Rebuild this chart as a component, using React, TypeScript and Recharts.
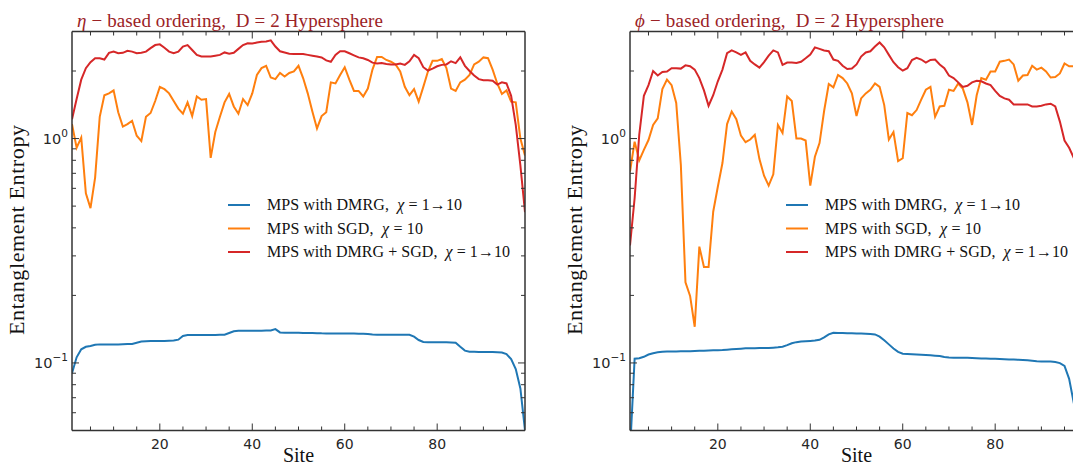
import React from 'react';
import { LineChart, Line, XAxis, YAxis, Legend } from 'recharts';

// bond index along the chain
const sites = Array.from({ length: 99 }, (_, i) => i + 1);

// eta-based ordering
const etaDmrg = [
  0.09, 0.106, 0.115, 0.118, 0.119, 0.1205, 0.121, 0.121, 0.121, 0.121,
  0.121, 0.1212, 0.1214, 0.1216, 0.123, 0.1245, 0.125, 0.1252, 0.1253, 0.1253,
  0.1254, 0.1256, 0.1258, 0.127, 0.132, 0.1331, 0.1332, 0.1332, 0.1332, 0.1332,
  0.1333, 0.1333, 0.1334, 0.1336, 0.136, 0.1385, 0.139, 0.139, 0.139, 0.1391,
  0.1392, 0.1393, 0.1394, 0.1396, 0.1415, 0.1368, 0.1364, 0.1363, 0.1362, 0.1362,
  0.1361, 0.136, 0.1359, 0.1358, 0.1355, 0.1354, 0.1354, 0.1353, 0.1353, 0.1353,
  0.1352, 0.1352, 0.1351, 0.135, 0.1345, 0.1338, 0.1337, 0.1337, 0.1337, 0.1337,
  0.1336, 0.1336, 0.1336, 0.1335, 0.131, 0.1265, 0.124, 0.1238, 0.1238, 0.1237,
  0.1237, 0.1236, 0.1235, 0.123, 0.118, 0.1135, 0.1122, 0.1121, 0.112, 0.112,
  0.1119, 0.1118, 0.1116, 0.1112, 0.1095, 0.104, 0.094, 0.077, 0.05,
];
const etaSgd = [
  1.16, 0.91, 1.01, 0.57, 0.49, 0.67, 1.25, 1.56, 1.59, 1.64,
  1.31, 1.13, 1.16, 1.2, 1.03, 0.975, 1.25, 1.3, 1.47, 1.7,
  1.66, 1.59, 1.47, 1.36, 1.29, 1.45, 1.26, 1.54, 1.49, 1.5,
  0.82, 1.07, 1.25, 1.45, 1.58, 1.39, 1.29, 1.5, 1.41, 1.59,
  1.92, 2.06, 2.11, 1.87, 1.84, 1.96, 1.89, 1.96, 1.99, 2.11,
  1.86, 1.59, 1.32, 1.11, 1.26, 1.31, 1.78, 1.76, 1.92, 2.08,
  1.83, 1.63, 1.63, 1.54, 1.67, 2.03, 2.31, 2.31, 2.24, 2.2,
  2.14, 1.99, 1.7, 1.56, 1.66, 1.46, 1.7, 1.99, 2.22, 2.22,
  2.26, 2.06, 1.67, 1.63, 1.78, 1.83, 1.92, 2.14, 2.2, 2.3,
  2.28, 2.03, 1.76, 1.58, 1.64, 1.46, 1.45, 1.0, 0.84,
];
const etaHybrid = [
  1.22, 1.5, 1.83, 2.06, 2.19, 2.28, 2.28, 2.25, 2.41, 2.44,
  2.4, 2.41, 2.46, 2.44, 2.4, 2.41, 2.44, 2.53, 2.61, 2.63,
  2.54, 2.44, 2.4, 2.44, 2.57, 2.61, 2.48, 2.36, 2.32, 2.32,
  2.32, 2.34, 2.36, 2.42, 2.39, 2.41, 2.51, 2.61, 2.66, 2.65,
  2.68, 2.7, 2.71, 2.74, 2.57, 2.45, 2.42, 2.39, 2.38, 2.38,
  2.38, 2.36, 2.34, 2.32, 2.3, 2.23, 2.2, 2.36, 2.45, 2.45,
  2.4, 2.35, 2.3, 2.28, 2.24, 2.18, 2.16, 2.17, 2.15, 2.14,
  2.14, 2.16, 2.13, 2.21, 2.36, 2.28, 2.08, 2.01, 2.05, 2.1,
  2.13, 2.14, 2.21, 2.17, 2.3, 2.11, 2.0, 1.91, 1.84, 1.82,
  1.82, 1.81, 1.74, 1.78, 1.76, 1.55, 1.15, 0.76, 0.47,
];

// phi-based ordering
const phiDmrg = [
  0.04, 0.1045, 0.105, 0.1065, 0.109, 0.1105, 0.1115, 0.1122, 0.1124, 0.1125,
  0.1126, 0.1127, 0.1128, 0.1129, 0.113, 0.1132, 0.1134, 0.1136, 0.1138, 0.114,
  0.1142, 0.1146, 0.115, 0.1154, 0.1158, 0.1162, 0.1163, 0.1164, 0.1165, 0.1166,
  0.1166, 0.117, 0.1175, 0.1182, 0.12, 0.1224, 0.1238, 0.1245, 0.125, 0.1254,
  0.1258, 0.1268, 0.13, 0.134, 0.1364, 0.1361, 0.136, 0.1358, 0.1356, 0.1354,
  0.1352, 0.135, 0.1345, 0.134, 0.131, 0.1262, 0.121, 0.116, 0.112, 0.1099,
  0.1096, 0.1093, 0.109, 0.1088, 0.1086, 0.1082, 0.1078, 0.1074, 0.1062, 0.1057,
  0.1056, 0.1055, 0.1054, 0.1054, 0.1052, 0.105, 0.1048, 0.1046, 0.1044, 0.1043,
  0.1041, 0.1039, 0.1037, 0.1035, 0.1033, 0.1032, 0.1027, 0.1022, 0.1018, 0.1016,
  0.1015, 0.1014, 0.101, 0.0998, 0.097, 0.085, 0.0665, 0.05, 0.04,
];
const phiSgd = [
  0.712, 0.969, 0.8, 0.89, 0.985, 1.15, 1.23, 1.66, 1.83, 1.73,
  1.44, 0.763, 0.229, 0.199, 0.145, 0.33, 0.268, 0.268, 0.472, 0.61,
  0.778, 1.16, 1.32, 1.22, 1.03, 0.963, 0.99, 1.04, 0.81, 0.683,
  0.617, 0.693, 1.15, 1.06, 1.54, 1.47, 1.0, 1.0, 0.98, 0.617,
  0.83, 0.955, 1.33, 1.75, 1.69, 1.92, 1.86, 1.76, 1.59, 1.26,
  1.51, 1.59, 1.65, 1.76, 1.7, 1.41, 0.99, 1.07, 0.794, 0.817,
  1.3, 1.27, 1.34, 1.49, 1.65, 1.7, 1.25, 1.39, 1.4, 1.65,
  1.63, 1.76, 1.67, 1.45, 1.15, 1.56, 1.86, 1.83, 1.99, 1.99,
  2.2, 2.22, 2.25, 2.14, 1.81, 1.91, 1.92, 2.11, 2.03, 2.07,
  1.99, 1.87, 1.88, 1.95, 2.16, 2.1, 2.1, 2.05, 2.0,
];
const phiHybrid = [
  0.334, 0.542, 1.04, 1.55, 1.73, 2.0, 1.91, 1.98, 1.99, 2.06,
  2.06, 2.05, 2.12, 2.1, 2.03, 1.86, 1.64, 1.4, 1.56, 1.8,
  2.03, 2.4, 2.47, 2.42, 2.36, 2.42, 2.22, 2.14, 2.07, 2.19,
  2.34, 2.47, 2.42, 2.13, 2.18, 2.18, 2.17, 2.2, 2.28, 2.37,
  2.55, 2.51, 2.47, 2.45, 2.25, 2.22, 2.11, 2.04, 2.05, 2.14,
  2.32, 2.42, 2.45, 2.57, 2.68, 2.55, 2.36, 2.19, 2.08, 2.01,
  2.06, 2.24, 2.29, 2.25, 2.18, 2.24, 2.25, 2.14, 2.06, 1.91,
  1.86, 1.78, 1.7, 1.72, 1.78, 1.81, 1.8, 1.76, 1.73, 1.63,
  1.55, 1.51, 1.49, 1.42, 1.42, 1.42, 1.42, 1.39, 1.39, 1.4,
  1.42, 1.43, 1.39, 1.19, 0.98, 0.91, 0.82, 0.72, 0.62,
];

const xTicks = [5, 10, 15, 20, 25, 30, 35, 40, 45, 50, 55, 60, 65, 70, 75, 80, 85, 90, 95];
const xLabelTicks = [20, 40, 60, 80];
const yTicks = [0.06, 0.07, 0.08, 0.09, 0.1, 0.2, 0.3, 0.4, 0.5, 0.6, 0.7, 0.8, 0.9, 1, 2];
const yLabelTicks = [0.1, 1];
const yExponents = ['\u22121', '0'];

const seriesNames = [
  'MPS with DMRG,  \u03c7 = 1\u219210',
  'MPS with SGD,  \u03c7 = 10',
  'MPS with DMRG + SGD,  \u03c7 = 1\u219210',
];
const legendWidths = [195, 156, 243];

const W = 545;
const H = 468;
const FRAME = '#333333';
const TITLE = '#9b2226';
const SERIF = '"Liberation Serif", "DejaVu Serif", serif';
const SANS = '"DejaVu Sans", sans-serif';

const BottomTick = ({ x, y, payload }: any) => {
  const major = xLabelTicks.includes(payload.value);
  return (
    <g>
      <line x1={x} x2={x} y1={y} y2={y - (major ? 7 : 4)} stroke={FRAME} />
      {major && (
        <text x={x} y={y + 18} textAnchor="middle" fontFamily={SANS} fontSize={14} fill="#262626">
          {payload.value}
        </text>
      )}
    </g>
  );
};

const TopTick = ({ x, y, payload }: any) => {
  const major = xLabelTicks.includes(payload.value);
  return <line x1={x} x2={x} y1={y} y2={y + (major ? 7 : 4)} stroke={FRAME} />;
};

const LeftTick = ({ x, y, payload }: any) => {
  const idx = yLabelTicks.indexOf(payload.value);
  const major = idx >= 0;
  return (
    <g>
      <line x1={x} x2={x + (major ? 7 : 4)} y1={y} y2={y} stroke={FRAME} />
      {major && (
        <text x={x - 4} y={y + 5} textAnchor="end" fontFamily={SANS} fontSize={14.5} fill="#262626">
          10
          <tspan dy={-6.5} fontSize={10.5}>{yExponents[idx]}</tspan>
        </text>
      )}
    </g>
  );
};

const RightTick = ({ x, y, payload }: any) => {
  const major = yLabelTicks.includes(payload.value);
  return <line x1={x} x2={x - (major ? 7 : 4)} y1={y} y2={y} stroke={FRAME} />;
};

const LegendBox = ({ payload }: any) => {
  const entries = (payload || [])
    .filter((p: any) => seriesNames.includes(p.value))
    .sort((a: any, b: any) => seriesNames.indexOf(a.value) - seriesNames.indexOf(b.value));
  return (
    <svg width={330} height={70} style={{ overflow: 'visible' }}>
      {entries.map((p: any) => {
        const i = seriesNames.indexOf(p.value);
        const cy = 10 + i * 23.5;
        const [pre, post] = String(p.value).split('\u03c7');
        return (
          <g key={p.value}>
            <line x1={0} x2={22} y1={cy} y2={cy} stroke={p.color} strokeWidth={2} />
            <text
              x={39}
              y={cy + 5}
              fontFamily={SERIF}
              fontSize={16}
              fill="#111"
              textLength={legendWidths[i]}
              lengthAdjust="spacing"
              style={{ whiteSpace: 'pre' }}
            >
              {pre}
              <tspan fontStyle="italic">{'\u03c7'}</tspan>
              {post}
            </text>
          </g>
        );
      })}
    </svg>
  );
};

interface PanelProps {
  left: number;
  symbol: string;
  titleWidth: number;
  dmrg: number[];
  sgd: number[];
  hybrid: number[];
}

const Panel = ({ left, symbol, titleWidth, dmrg, sgd, hybrid }: PanelProps) => {
  const data = sites.map((s, i) => ({ site: s, dmrg: dmrg[i], sgd: sgd[i], hybrid: hybrid[i] }));
  const axisLine = { stroke: FRAME, strokeWidth: 1.5 };
  return (
    <div style={{ position: 'absolute', left, top: 0, width: W, height: H }}>
      <LineChart width={W} height={H} data={data} margin={{ top: 30.5, right: 19, bottom: 7.5, left: 22 }}>
        <XAxis
          dataKey="site"
          type="number"
          domain={[1, 99]}
          allowDataOverflow
          ticks={xTicks}
          interval={0}
          tickSize={0}
          tickMargin={0}
          tickLine={false}
          tick={BottomTick}
          axisLine={axisLine}
          height={30}
        />
        <XAxis
          xAxisId="top"
          orientation="top"
          dataKey="site"
          type="number"
          domain={[1, 99]}
          allowDataOverflow
          ticks={xTicks}
          interval={0}
          tickSize={0}
          tickMargin={0}
          tickLine={false}
          tick={TopTick}
          axisLine={axisLine}
          height={1}
        />
        <YAxis
          type="number"
          scale="log"
          domain={[0.05, 3]}
          allowDataOverflow
          ticks={yTicks}
          interval={0}
          tickSize={0}
          tickMargin={0}
          tickLine={false}
          tick={LeftTick}
          axisLine={axisLine}
          width={50}
        />
        <YAxis
          yAxisId="right"
          orientation="right"
          type="number"
          scale="log"
          domain={[0.05, 3]}
          allowDataOverflow
          ticks={yTicks}
          interval={0}
          tickSize={0}
          tickMargin={0}
          tickLine={false}
          tick={RightTick}
          axisLine={axisLine}
          width={1}
        />
        <Legend
          layout="vertical"
          align="center"
          verticalAlign="middle"
          content={LegendBox}
          wrapperStyle={{ left: 228, top: 195, width: 330, height: 70 }}
        />
        <Line dataKey="dmrg" name={seriesNames[0]} stroke="#1f77b4" strokeWidth={2} dot={false} activeDot={false} isAnimationActive={false} />
        <Line dataKey="sgd" name={seriesNames[1]} stroke="#ff7f0e" strokeWidth={2} dot={false} activeDot={false} isAnimationActive={false} />
        <Line dataKey="hybrid" name={seriesNames[2]} stroke="#d62728" strokeWidth={2} dot={false} activeDot={false} isAnimationActive={false} />
        <Line
          xAxisId="top"
          yAxisId="right"
          dataKey="dmrg"
          name="frame"
          stroke="none"
          dot={false}
          activeDot={false}
          legendType="none"
          isAnimationActive={false}
        />
      </LineChart>
      <svg width={W} height={H} style={{ position: 'absolute', left: 0, top: 0, pointerEvents: 'none' }}>
        <text
          x={77}
          y={27}
          fill={TITLE}
          fontFamily={SERIF}
          fontSize={19}
          textLength={titleWidth}
          lengthAdjust="spacing"
          style={{ whiteSpace: 'pre' }}
        >
          <tspan fontStyle="italic">{symbol}</tspan>
          {' \u2212 based ordering,  D = 2 Hypersphere'}
        </text>
        <text
          transform="translate(24,230) rotate(-90)"
          textAnchor="middle"
          fontFamily={SERIF}
          fontSize={22}
          fill="#111"
          textLength={210}
          lengthAdjust="spacing"
        >
          Entanglement Entropy
        </text>
        <text x={298.5} y={462} textAnchor="middle" fontFamily={SERIF} fontSize={20} fill="#111">
          Site
        </text>
      </svg>
    </div>
  );
};

export default function App() {
  return (
    <div
      style={{
        position: 'absolute',
        left: 0,
        top: 0,
        width: 1073,
        height: 468,
        overflow: 'hidden',
        background: '#ffffff',
      }}
    >
      <Panel left={0} symbol={'\u03b7'} titleWidth={306} dmrg={etaDmrg} sgd={etaSgd} hybrid={etaHybrid} />
      <Panel left={557.5} symbol={'\u03d5'} titleWidth={309} dmrg={phiDmrg} sgd={phiSgd} hybrid={phiHybrid} />
    </div>
  );
}
